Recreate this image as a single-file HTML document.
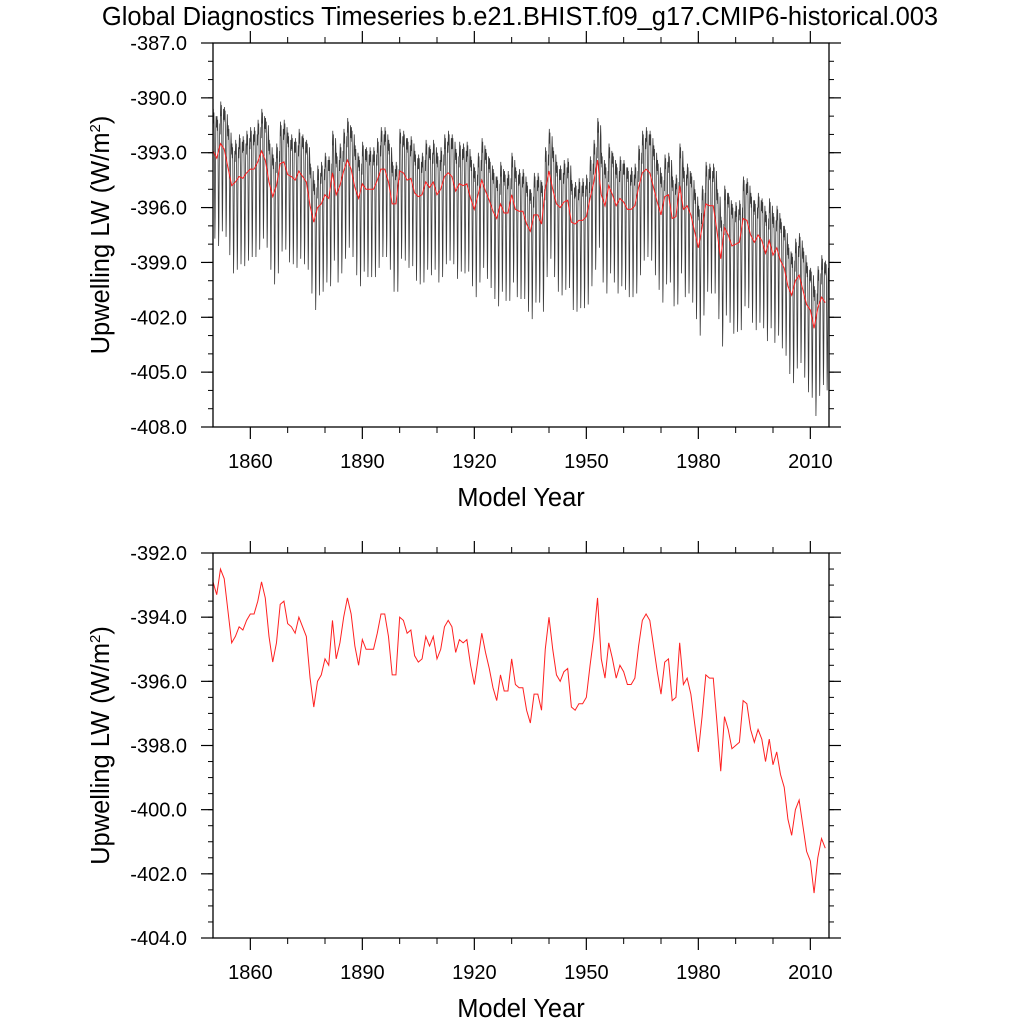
<!DOCTYPE html>
<html><head><meta charset="utf-8">
<style>
html,body{margin:0;padding:0;background:#fff;}
svg{display:block;font-family:"Liberation Sans",Arial,sans-serif;}
</style></head>
<body>
<svg id="chart" width="1024" height="1024" viewBox="0 0 1024 1024">
<text x="520" y="25" text-anchor="middle" font-size="25.5">Global Diagnostics Timeseries b.e21.BHIST.f09_g17.CMIP6-historical.003</text>
<g id="top"></g>
<g id="bot"></g>
</svg>
<script>
const years = [];
for (let y = 1850; y <= 2014; y++) years.push(y);
const annualLW = [
-392.9,-393.3,-392.5,-392.8,-393.8,-394.8,-394.6,-394.3,-394.4,-394.1,
-393.9,-393.9,-393.5,-392.9,-393.4,-394.6,-395.4,-394.8,-393.6,-393.5,
-394.2,-394.3,-394.5,-394.0,-394.3,-394.6,-395.9,-396.8,-396.0,-395.8,
-395.3,-395.5,-394.1,-395.3,-394.8,-394.0,-393.4,-393.9,-394.9,-395.5,
-394.7,-395.0,-395.0,-395.0,-394.5,-393.9,-393.9,-394.6,-395.8,-395.8,
-394.0,-394.1,-394.5,-394.4,-395.2,-395.4,-395.3,-394.6,-394.9,-394.6,
-395.3,-395.0,-394.3,-394.1,-394.3,-395.1,-394.7,-394.8,-394.7,-395.5,
-396.1,-395.3,-394.5,-395.1,-395.6,-396.2,-396.6,-395.8,-396.3,-396.3,
-395.3,-396.1,-396.2,-396.2,-396.9,-397.3,-396.4,-396.4,-396.9,-395.0,
-394.0,-395.0,-395.8,-396.0,-395.7,-395.6,-396.8,-396.9,-396.7,-396.7,
-396.5,-395.5,-394.6,-393.4,-395.3,-395.9,-394.8,-395.3,-395.9,-395.5,
-395.7,-396.1,-396.1,-395.9,-394.9,-394.1,-393.9,-394.1,-394.9,-395.7,
-396.4,-395.4,-395.3,-396.6,-396.5,-394.8,-396.1,-395.9,-396.4,-397.3,
-398.2,-397.1,-395.8,-395.9,-395.9,-397.3,-398.8,-397.1,-397.5,-398.1,
-398.0,-397.9,-396.6,-396.7,-397.5,-397.9,-397.5,-397.8,-398.5,-397.8,
-398.6,-398.2,-398.9,-399.3,-400.3,-400.8,-400.0,-399.7,-400.5,-401.3,
-401.6,-402.6,-401.5,-400.9,-401.2];
const seasonalAnom = [1.7,2.3,1.5,2.1,0.7,-2.3,-4.8,-3.6,-0.8,1.2,1.9,1.3];
const xTickLabels = [1860,1890,1920,1950,1980,2010];
const topYTicks = [-387,-390,-393,-396,-399,-402,-405,-408];
const botYTicks = [-392,-394,-396,-398,-400,-402,-404];

const NS = "http://www.w3.org/2000/svg";
function mk(parent, tag, attrs) {
  const e = document.createElementNS(NS, tag);
  for (const k in attrs) e.setAttribute(k, attrs[k]);
  parent.appendChild(e);
  return e;
}
const L = 213, R = 829, X0 = 1850, X1 = 2015;
function xs(v) { return L + (v - X0) / (X1 - X0) * (R - L); }

function panel(g, top, bottom, ymax, ymin, majorTicks, minorStep) {
  const ys = v => top + (ymax - v) / (ymax - ymin) * (bottom - top);
  for (let v = ymax; v >= ymin - 1e-6; v -= minorStep) {
    const yy = ys(v);
    const t1 = mk(g, "line", {x1: L - 5, x2: L, y1: yy, y2: yy, stroke: "#000", "stroke-width": 1});
    
    
    const t2 = mk(g, "line", {x1: R, x2: R + 5, y1: yy, y2: yy, stroke: "#000", "stroke-width": 1});
    
    
  }
  majorTicks.forEach(v => {
    const yy = ys(v);
    const t = mk(g, "line", {x1: L - 12, x2: L, y1: yy, y2: yy, stroke: "#000", "stroke-width": 1.2});
    
    
    const t2 = mk(g, "line", {x1: R, x2: R + 12, y1: yy, y2: yy, stroke: "#000", "stroke-width": 1.2});
    
    
    const tx = mk(g, "text", {x: 187, y: yy + 7, "text-anchor": "end", "font-size": 20});
    tx.textContent = v.toFixed(1);
    
    
  });
  for (let yr = 1860; yr <= 2010; yr += 10) {
    const xx = xs(yr);
    const major = (yr - 1860) % 30 === 0;
    const len = major ? 12 : 6;
    const a = mk(g, "line", {x1: xx, x2: xx, y1: bottom, y2: bottom + len, stroke: "#000", "stroke-width": major ? 1.2 : 1});
    
    
    const b = mk(g, "line", {x1: xx, x2: xx, y1: top - len, y2: top, stroke: "#000", "stroke-width": major ? 1.2 : 1});
    
    
  }
  xTickLabels.forEach(yr => {
    const tx = mk(g, "text", {x: xs(yr), y: bottom + 41, "text-anchor": "middle", "font-size": 20});
    tx.textContent = yr;
    
    
  });
  const xt = mk(g, "text", {x: 521, y: bottom + 79, "text-anchor": "middle", "font-size": 25.5});
  xt.textContent = "Model Year";
  
  
  const cy = (top + bottom) / 2;
  const yt = mk(g, "text", {x: 109, y: cy, "text-anchor": "middle", "font-size": 25.5, transform: `rotate(-90 109 ${cy})`});
  yt.innerHTML = 'Upwelling LW (W/m<tspan dy="-9" font-size="15">2</tspan><tspan dy="9">)</tspan>';
  
  
  return ys;
}

const gt = document.getElementById("top");
const ysT = panel(gt, 43, 427, -387, -408, topYTicks, 1);
let pts = [];
years.forEach((yr, i) => {
  seasonalAnom.forEach((s, m) => {
    pts.push(xs(yr + m / 12).toFixed(2) + "," + ysT(annualLW[i] + s).toFixed(2));
  });
});
const ml = mk(gt, "polyline", {points: pts.join(" "), fill: "none", stroke: "#3a3a3a", "stroke-width": 0.8});


const ra = mk(gt, "polyline", {points: years.map((yr, i) => xs(yr).toFixed(2) + "," + ysT(annualLW[i]).toFixed(2)).join(" "), fill: "none", stroke: "#ff2020", "stroke-width": 1});


const ft = mk(gt, "rect", {x: L, y: 43, width: R - L, height: 384, fill: "none", stroke: "#000", "stroke-width": 1.3});



const gb = document.getElementById("bot");
const ysB = panel(gb, 553, 938, -392, -404, botYTicks, 0.5);
const rb = mk(gb, "polyline", {points: years.map((yr, i) => xs(yr).toFixed(2) + "," + ysB(annualLW[i]).toFixed(2)).join(" "), fill: "none", stroke: "#ff2020", "stroke-width": 1});


const fb = mk(gb, "rect", {x: L, y: 553, width: R - L, height: 385, fill: "none", stroke: "#000", "stroke-width": 1.3});


</script>
</body></html>
